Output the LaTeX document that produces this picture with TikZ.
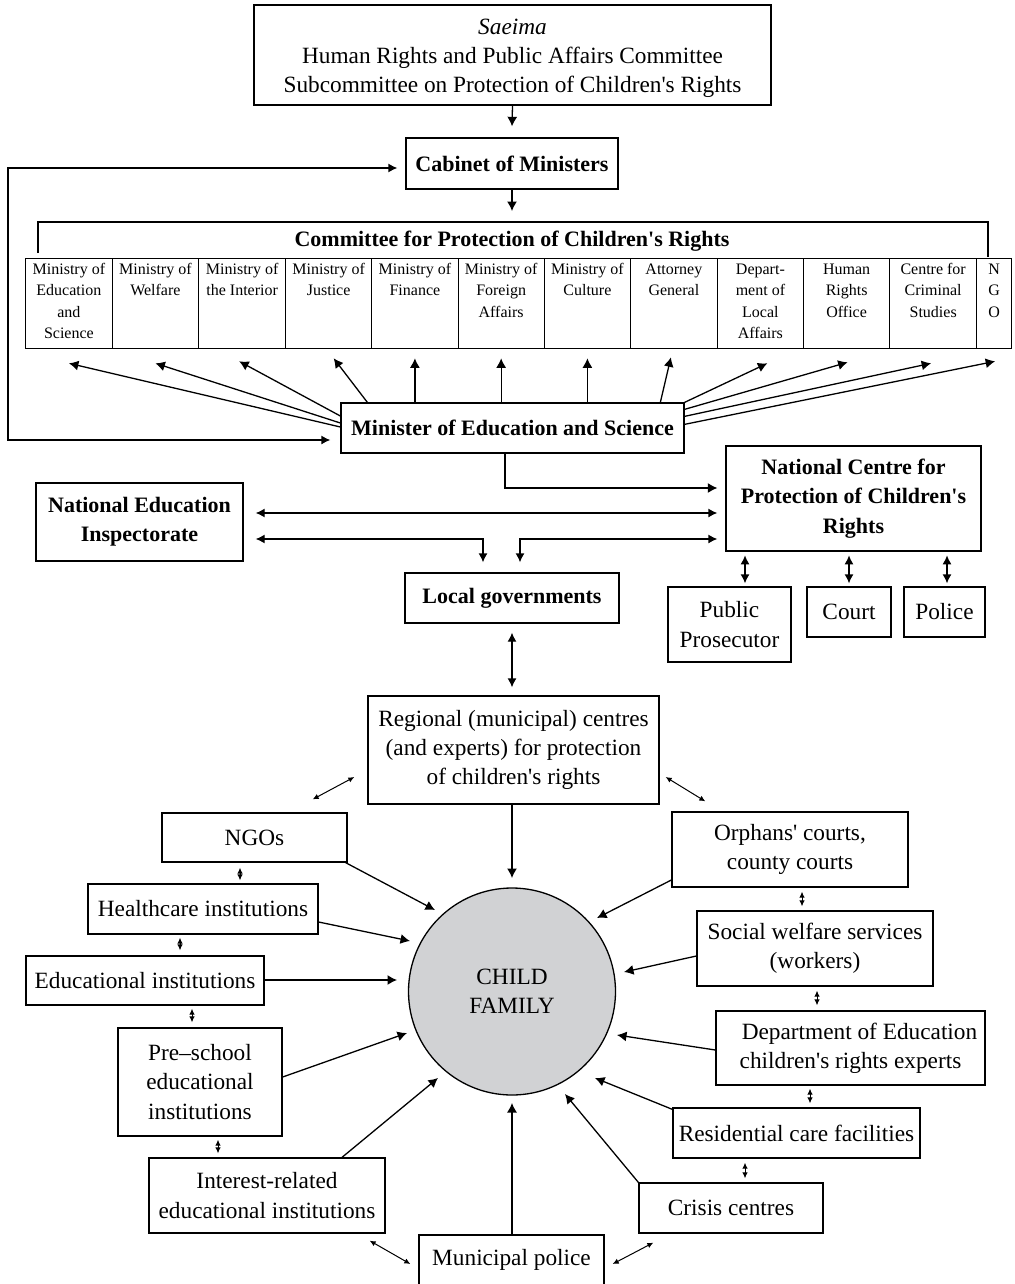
\documentclass[tikz,border=0pt]{standalone}
\usepackage{fontspec}
\setmainfont{Liberation Serif}[Ligatures=TeXOff]
\usetikzlibrary{arrows.meta,calc}
\definecolor{cgray}{RGB}{209,210,212}
\newcommand\fmain{\fontsize{23.3}{29.3}\selectfont}
\newcommand\fbold{\fontsize{22}{29.3}\selectfont\bfseries}
\newcommand\fmin{\fontsize{16}{21.3}\selectfont}
\newcommand\mtext[2]{\parbox[t][88pt][t]{#1}{\centering\rule{0pt}{15pt}#2}}
\begin{document}
\begin{tikzpicture}[x=1pt,y=-1pt,
  box/.style={draw,line width=1.3pt,inner sep=0pt,align=center,font=\fmain},
  bbox/.style={box,font=\fbold},
  mbox/.style={draw,line width=1.3pt,inner sep=0pt,anchor=north west,minimum height=90pt,font=\fmin},
  arr/.style={line width=1.3pt,-{Latex[length=9.5pt,width=10pt]}},
  darr/.style={line width=1.3pt,{Latex[length=9pt,width=9pt]}-{Latex[length=9pt,width=9pt]}},
  sarr/.style={line width=1pt,{Latex[length=6pt,width=5.5pt]}-{Latex[length=6pt,width=5.5pt]}},
]
\useasboundingbox (0,0) rectangle (1014,1284);

% top boxes
\node[box,minimum width=517pt,minimum height=100pt] (saeima) at (512.5,55)
  {\rule{0pt}{22pt}\textit{Saeima}\\Human Rights and Public Affairs Committee\\Subcommittee on Protection of Children's Rights};
\node[bbox,minimum width=212pt,minimum height=51pt] (cabinet) at (512,163.5) {Cabinet of Ministers};
\coordinate (ctop) at (512,211);
\node[font=\fbold,inner sep=0pt] (ctitle) at (512,241) {Committee for Protection of Children's Rights};
\draw[line width=1.3pt] (38,253) -- (38,222) -- (988,222) -- (988,257);

% ministries row
\node[mbox,minimum width=86.5pt] (m1) at (25,258) {\mtext{84pt}{Ministry of\\Education\\and\\Science}};
\node[mbox,minimum width=86.5pt] (m2) at (111.5,258) {\mtext{84pt}{Ministry of\\Welfare}};
\node[mbox,minimum width=87pt] (m3) at (198,258) {\mtext{84pt}{Ministry of\\the Interior}};
\node[mbox,minimum width=86pt] (m4) at (285,258) {\mtext{84pt}{Ministry of\\Justice}};
\node[mbox,minimum width=86.5pt] (m5) at (371,258) {\mtext{84pt}{Ministry of\\Finance}};
\node[mbox,minimum width=86pt] (m6) at (457.5,258) {\mtext{84pt}{Ministry of\\Foreign\\Affairs}};
\node[mbox,minimum width=86.5pt] (m7) at (543.5,258) {\mtext{84pt}{Ministry of\\Culture}};
\node[mbox,minimum width=86.5pt] (m8) at (630,258) {\mtext{84pt}{Attorney\\General}};
\node[mbox,minimum width=86.5pt] (m9) at (716.5,258) {\mtext{84pt}{Depart-\\ment of\\Local\\Affairs}};
\node[mbox,minimum width=86pt] (m10) at (803,258) {\mtext{84pt}{Human\\Rights\\Office}};
\node[mbox,minimum width=87pt] (m11) at (889,258) {\mtext{84pt}{Centre for\\Criminal\\Studies}};
\node[mbox,minimum width=35pt] (m12) at (976,258) {\mtext{33pt}{N\\G\\O}};

\node[bbox,minimum width=343pt,minimum height=50pt] (mine) at (512.5,428) {Minister of Education and Science};

% middle boxes
\node[bbox,minimum width=207pt,minimum height=78pt] (nei) at (139.5,522) {National Education\\Inspectorate};
\node[bbox,minimum width=255pt,minimum height=105pt] (ncpcr) at (853.5,498.5) {National Centre for\\Protection of Children's\\Rights};
\node[bbox,minimum width=214pt,minimum height=50pt] (local) at (512,598) {Local governments};
\node[box,minimum width=123pt,minimum height=75pt] (pros) at (729.5,624.5) {Public\\Prosecutor};
\node[box,minimum width=84pt,minimum height=50pt] (court) at (849,612) {Court};
\node[box,minimum width=81pt,minimum height=50pt] (police) at (944.5,612) {Police};

% lower boxes
\node[box,minimum width=291pt,minimum height=108pt] (regional) at (513.5,750) {Regional (municipal) centres\\(and experts) for protection\\of children's rights};
\node[box,minimum width=185pt,minimum height=49pt] (ngos) at (254.5,837.5) {NGOs};
\node[box,minimum width=230pt,minimum height=50pt] (health) at (203,909) {Healthcare institutions};
\node[box,minimum width=238pt,minimum height=49pt] (edu) at (145,980.5) {Educational institutions};
\node[box,minimum width=164pt,minimum height=108pt] (pre) at (200,1082) {Pre–school\\educational\\institutions};
\node[box,minimum width=236pt,minimum height=75pt] (interest) at (267,1195.5) {Interest-related\\educational institutions};
\node[box,minimum width=185pt,minimum height=50pt] (mpol) at (511.5,1260) {Municipal police};
\node[box,minimum width=184pt,minimum height=50pt] (crisis) at (731,1208) {Crisis centres};
\node[box,minimum width=247pt,minimum height=50pt] (resid) at (796.5,1133) {Residential care facilities};
\node[box,minimum width=269pt,minimum height=74pt] (dept) at (850.5,1048) {\hspace*{18pt}Department of Education\\children's rights experts};
\node[box,minimum width=236pt,minimum height=75pt] (social) at (815,948.5) {Social welfare services\\(workers)};
\node[box,minimum width=236pt,minimum height=75pt] (orph) at (790,849.5) {Orphans' courts,\\county courts};

\node[circle,draw,line width=1.3pt,fill=cgray,minimum size=207pt,inner sep=0pt,align=center,font=\fmain] (child) at (512,991.5) {CHILD\\FAMILY};

% tips around the circle
\coordinate (tReg) at (512,878);
\coordinate (tNgo) at (435,910);
\coordinate (tHea) at (410,941);
\coordinate (tEdu) at (397,980);
\coordinate (tPre) at (407,1033);
\coordinate (tInt) at (438,1078);
\coordinate (tPol) at (512,1103);
\coordinate (tCri) at (565,1094);
\coordinate (tRes) at (595,1078);
\coordinate (tDep) at (617,1035);
\coordinate (tSoc) at (624,972);
\coordinate (tOrp) at (597,918);

% top connectors
\draw[arr] (saeima.south) -- ($(cabinet.north)+(0,-11)$);
\draw[arr] (cabinet.south) -- (ctop);
\draw[darr] ($(mine.west)+(-10,12)$) -| (8,168) -- ($(cabinet.west)+(-8,4.5)$);

% minister to ministries
\draw[arr] ($(mine.west)+(0,-1)$) -- ($(m1.south)+(0,14)$);
\draw[arr] ($(mine.west)+(0,-5)$) -- ($(m2.south)+(0,14)$);
\draw[arr] ($(mine.west)+(0,-12)$) -- ($(m3.south)+(-3,12)$);
\draw[arr] ($(mine.north west)+(27,0)$) -- ($(m4.south)+(5,9)$);
\draw[arr] (m5.south |- mine.north) -- ($(m5.south)+(0,9)$);
\draw[arr] (m6.south |- mine.north) -- ($(m6.south)+(0,9)$);
\draw[arr] (m7.south |- mine.north) -- ($(m7.south)+(0,9)$);
\draw[arr] ($(mine.north west)+(320,0)$) -- ($(m8.south)+(-3,8)$);
\draw[arr] (mine.north east) -- ($(m9.south)+(7,14)$);
\draw[arr] ($(mine.north east)+(0,7)$) -- ($(m10.south)+(1,13)$);
\draw[arr] ($(mine.north east)+(0,14)$) -- ($(m11.south)+(-2,14)$);
\draw[arr] ($(mine.north east)+(0,22)$) -- ($(m12.south)+(1,12)$);

% middle connectors
\draw[arr] ($(mine.south)+(-7.5,0)$) |- ($(ncpcr.west)+(-8,-10.5)$);
\draw[darr] ($(nei.east)+(12,-9)$) -- ($(ncpcr.west)+(-8,14.5)$);
\draw[darr] ($(nei.east)+(12,17)$) -| ($(local.north)+(-29,-10)$);
\draw[darr] ($(ncpcr.west)+(-8,40.5)$) -| ($(local.north)+(8,-10)$);
\draw[darr] ($(pros.north)+(15.5,-31)$) -- ($(pros.north)+(15.5,-3)$);
\draw[darr] ($(court.north)+(0,-31)$) -- ($(court.north)+(0,-3)$);
\draw[darr] ($(police.north)+(2.5,-31)$) -- ($(police.north)+(2.5,-3)$);
\draw[darr] ($(local.south)+(0,9)$) -- ($(regional.north)+(-1.5,-8)$);

% regional
\draw[sarr] ($(ngos.north east)+(-35,-13)$) -- ($(regional.west)+(-13,27)$);
\draw[sarr] ($(regional.east)+(6,27)$) -- ($(orph.north west)+(34,-10)$);
\draw[arr] (regional.south -| tReg) -- (tReg);

% left side
\draw[arr] ($(ngos.south east)+(-2,0)$) -- (tNgo);
\draw[sarr] ($(ngos.south)+(-14.5,5)$) -- ($(health.north)+(37,-3)$);
\draw[arr] ($(health.east)+(0,13)$) -- (tHea);
\draw[sarr] ($(health.south)+(-23,3)$) -- ($(edu.north)+(35,-5)$);
\draw[arr] ($(edu.east)+(0,-0.5)$) -- (tEdu);
\draw[sarr] ($(edu.south)+(47,3)$) -- ($(pre.north)+(-8,-5)$);
\draw[arr] ($(pre.east)+(0,-5)$) -- (tPre);
\draw[sarr] ($(pre.south)+(18,3)$) -- ($(interest.north)+(-49,-4)$);
\draw[arr] ($(interest.north)+(75,0)$) -- (tInt);
\draw[sarr] ($(interest.south east)+(-16,7)$) -- ($(mpol.west)+(-8,4)$);

% bottom / right side
\draw[arr] (mpol.north -| tPol) -- (tPol);
\draw[sarr] ($(mpol.east)+(8,4)$) -- ($(crisis.south west)+(15,9)$);
\draw[arr] (crisis.north west) -- (tCri);
\draw[sarr] ($(crisis.north)+(14,-4)$) -- ($(resid.south)+(-51.5,4)$);
\draw[arr] ($(resid.north west)+(0,2)$) -- (tRes);
\draw[sarr] ($(resid.north)+(13.5,-4)$) -- ($(dept.south)+(-40.5,3)$);
\draw[arr] ($(dept.west)+(0,2)$) -- (tDep);
\draw[sarr] ($(dept.north)+(-33.5,-5)$) -- ($(social.south)+(2,4)$);
\draw[arr] ($(social.west)+(0,7.5)$) -- (tSoc);
\draw[sarr] ($(social.north)+(-13,-4)$) -- ($(orph.south)+(12,4)$);
\draw[arr] ($(orph.west)+(0,30.5)$) -- (tOrp);
\end{tikzpicture}
\end{document}
